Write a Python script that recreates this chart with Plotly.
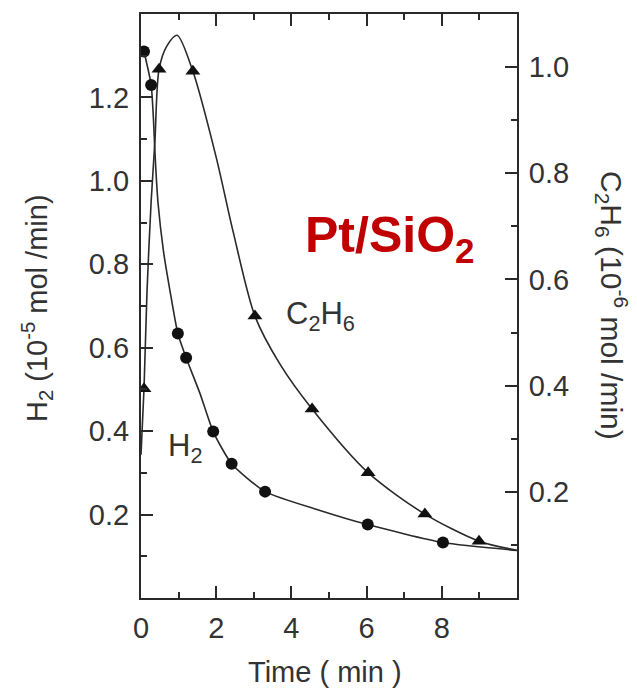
import plotly.graph_objects as go

# ---- data ----
# H2 (left axis, 10^-5 mol/min): measured points (circles)
h2_time = [0.08, 0.27, 0.98, 1.20, 1.92, 2.41, 3.30, 6.03, 8.03]
h2_vals = [1.31, 1.23, 0.634, 0.576, 0.399, 0.322, 0.255, 0.176, 0.133]
# H2 fitted curve as drawn
h2_curve_time = [0.08, 0.27, 0.33, 0.37, 0.45, 0.60, 0.77, 0.98, 1.20, 1.57, 1.92, 2.41, 3.30, 4.76, 6.03, 8.03, 10.0]
h2_curve_vals = [1.31, 1.23, 1.15, 1.07, 0.95, 0.83, 0.737, 0.634, 0.576, 0.49, 0.399, 0.322, 0.255, 0.21, 0.176, 0.133, 0.114]

# C2H6 (right axis, 10^-6 mol/min): measured points (triangles)
c2h6_time = [0.08, 0.48, 1.38, 3.03, 4.55, 6.04, 7.55, 8.99]
c2h6_vals = [0.394, 0.996, 0.992, 0.531, 0.356, 0.236, 0.158, 0.107]
# C2H6 fitted curve as drawn
c2h6_curve_time = [0.0, 0.08, 0.16, 0.27, 0.37, 0.48, 0.69, 0.96, 1.38, 2.0, 2.45, 3.03, 3.7, 4.55, 6.04, 7.55, 8.99, 10.0]
c2h6_curve_vals = [0.27, 0.394, 0.578, 0.747, 0.86, 0.996, 1.04, 1.06, 0.992, 0.83, 0.69, 0.531, 0.44, 0.356, 0.236, 0.158, 0.107, 0.09]

x_ticks = [0, 2, 4, 6, 8]
y_left_ticks = [0.2, 0.4, 0.6, 0.8, 1.0, 1.2]
y_right_ticks = [0.2, 0.4, 0.6, 0.8, 1.0]

INK = "#2a2a2a"
FONT = "Liberation Sans, Arial, Helvetica, sans-serif"

fig = go.Figure()
fig.add_trace(go.Scatter(x=h2_curve_time, y=h2_curve_vals, mode="lines",
                         line=dict(color=INK, width=1.6, shape="spline", smoothing=0.6),
                         showlegend=False, hoverinfo="skip"))
fig.add_trace(go.Scatter(x=h2_time, y=h2_vals, mode="markers",
                         marker=dict(symbol="circle", size=12, color="#111"),
                         showlegend=False))
fig.add_trace(go.Scatter(x=c2h6_curve_time, y=c2h6_curve_vals, mode="lines", yaxis="y2",
                         line=dict(color=INK, width=1.6, shape="spline", smoothing=0.8),
                         showlegend=False, hoverinfo="skip"))
fig.add_trace(go.Scatter(x=c2h6_time, y=c2h6_vals, mode="markers", yaxis="y2",
                         marker=dict(symbol="triangle-up", size=13, color="#111"),
                         showlegend=False))

L, R, T, B = 141, 120, 14, 90
W, H = 637, 688
pw, ph = W - L - R, H - T - B

def px(x):
    return (x - L) / pw

def py(y):
    return (H - B - y) / ph

axis_common = dict(showgrid=False, zeroline=False, showline=True, linecolor=INK, linewidth=2,
                   ticks="inside", tickcolor=INK, tickwidth=1.5, ticklen=12,
                   tickfont=dict(family=FONT, size=29, color="#333"))

fig.update_layout(
    width=W, height=H,
    margin=dict(l=L, r=R, t=T, b=B),
    paper_bgcolor="white", plot_bgcolor="white",
    xaxis=dict(range=[0, 10], tickvals=x_ticks, ticktext=[str(v) for v in x_ticks],
               mirror="ticks",
               minor=dict(dtick=1, tick0=0, ticks="inside", ticklen=6, tickcolor=INK, tickwidth=1.5),
               ticklabelstandoff=3,
               **axis_common),
    yaxis=dict(range=[0, 1.4], tickvals=y_left_ticks, ticktext=[f"{v:.1f}" for v in y_left_ticks],
               minor=dict(dtick=0.1, tick0=0, ticks="inside", ticklen=6, tickcolor=INK, tickwidth=1.5),
               ticklabelstandoff=4,
               **axis_common),
    yaxis2=dict(range=[0, 1.1], overlaying="y", side="right",
                tickvals=y_right_ticks, ticktext=[f"{v:.1f}" for v in y_right_ticks],
                minor=dict(dtick=0.1, tick0=0, ticks="inside", ticklen=6, tickcolor=INK, tickwidth=1.5),
                ticklabelstandoff=4,
                **axis_common),
    font=dict(family=FONT, color="#333"),
)

ann = [
    dict(text="<b>Pt/SiO<sub>2</sub></b>", x=px(390), y=py(238), font=dict(size=50, color="#C00000", family=FONT),
         xanchor="center", yanchor="middle", showarrow=False),
    dict(text="C<sub>2</sub>H<sub>6</sub>", x=px(320), y=py(316), font=dict(size=31, color="#333", family=FONT),
         xanchor="center", yanchor="middle", showarrow=False),
    dict(text="H<sub>2</sub>", x=px(185), y=py(448), font=dict(size=31, color="#333", family=FONT),
         xanchor="center", yanchor="middle", showarrow=False),
    dict(text="H<sub>2</sub> (10<sup>-5</sup> mol /min)", x=px(37), y=py(308), textangle=-90,
         font=dict(size=29, color="#333", family=FONT), xanchor="center", yanchor="middle", showarrow=False),
    dict(text="C<sub>2</sub>H<sub>6</sub> (10<sup>-6</sup> mol /min)", x=px(612), y=py(305), textangle=90,
         font=dict(size=30, color="#333", family=FONT), xanchor="center", yanchor="middle", showarrow=False),
    dict(text="Time ( min )", x=px(325), y=py(672), font=dict(size=29, color="#333", family=FONT),
         xanchor="center", yanchor="middle", showarrow=False),
]
for a in ann:
    a["xref"] = "paper"
    a["yref"] = "paper"
fig.update_layout(annotations=ann)

fig.write_html("out.html")
